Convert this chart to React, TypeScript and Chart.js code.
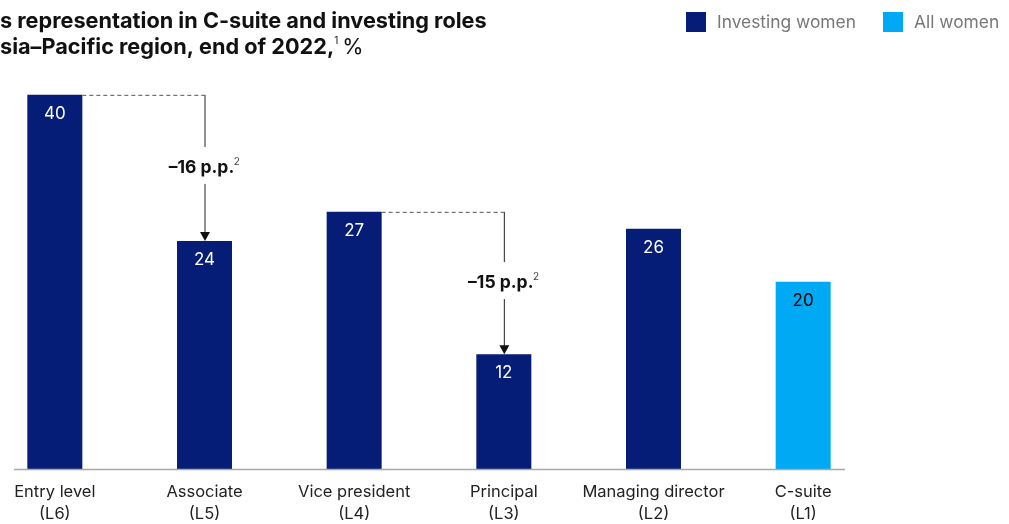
import React, { useEffect, useRef } from "react";
import { Chart, registerables } from "chart.js";

Chart.register(...registerables);

const categoryNames = ["Entry level", "Associate", "Vice president", "Principal", "Managing director", "C-suite"];
const categoryLevels = ["(L6)", "(L5)", "(L4)", "(L3)", "(L2)", "(L1)"];
const values = [39.7, 24.2, 27.3, 12.2, 25.5, 19.9];
const valueLabels = ["40", "24", "27", "12", "26", "20"];
const seriesNames = ["Investing women", "All women"];
const barSeries = [0, 0, 0, 0, 0, 1];
const gapFrom = [0, 2];
const gapTo = [1, 3];
const gapLabels = ["–16 p.p.", "–15 p.p."];
const titleLine1 = "s representation in C-suite and investing roles";
const titleLine2 = "sia–Pacific region, end of 2022,";

const NAVY = "#061d78";
const LIGHT = "#00a9f4";
const seriesColors = [NAVY, LIGHT];
const FONT = "Inter, 'Liberation Sans', Arial, sans-serif";
const OX = 40; // canvas x = page x + OX

function fitSize(ctx: CanvasRenderingContext2D, text: string, weight: string, target: number) {
  ctx.font = `${weight} 20px ${FONT}`;
  const w = ctx.measureText(text).width;
  return (20 * target) / w;
}

const overlay = {
  id: "overlay",
  afterDraw(chart: any) {
    const ctx = chart.ctx as CanvasRenderingContext2D;
    const ys = chart.scales.y;
    const meta = chart.getDatasetMeta(0);
    ctx.save();

    // axis line
    const y0 = ys.getPixelForValue(0);
    ctx.strokeStyle = "#a8a8a8";
    ctx.lineWidth = 1.5;
    ctx.beginPath();
    ctx.moveTo(OX + 14, y0);
    ctx.lineTo(OX + 845, y0);
    ctx.stroke();

    // value labels
    ctx.font = `17px ${FONT}`;
    ctx.textAlign = "center";
    ctx.textBaseline = "middle";
    meta.data.forEach((bar: any, i: number) => {
      ctx.fillStyle = barSeries[i] === 0 ? "#ffffff" : "#000000";
      ctx.fillText(valueLabels[i], bar.x, bar.y + 19);
    });

    // gap annotations
    gapFrom.forEach((f, k) => {
      const a = meta.data[f];
      const b = meta.data[gapTo[k]];
      const aRight = a.x + a.width / 2;
      ctx.strokeStyle = "#555";
      ctx.lineWidth = 1;
      ctx.setLineDash([4, 3]);
      ctx.beginPath();
      ctx.moveTo(aRight, a.y + 0.5);
      ctx.lineTo(b.x, a.y + 0.5);
      ctx.stroke();
      ctx.setLineDash([]);
      const mid = (a.y + b.y) / 2;
      ctx.strokeStyle = "#222";
      ctx.beginPath();
      ctx.moveTo(b.x + 0.5, a.y);
      ctx.lineTo(b.x + 0.5, mid - 21);
      ctx.moveTo(b.x + 0.5, mid + 16);
      ctx.lineTo(b.x + 0.5, b.y - 8);
      ctx.stroke();
      ctx.fillStyle = "#111";
      ctx.beginPath();
      ctx.moveTo(b.x + 0.5 - 5, b.y - 9);
      ctx.lineTo(b.x + 0.5 + 5, b.y - 9);
      ctx.lineTo(b.x + 0.5, b.y);
      ctx.closePath();
      ctx.fill();
      // label
      ctx.font = `bold 17.5px ${FONT}`;
      const w1 = ctx.measureText(gapLabels[k]).width;
      ctx.font = `10px ${FONT}`;
      const w2 = ctx.measureText("2").width;
      const start = b.x - (w1 + w2) / 2;
      ctx.textAlign = "left";
      ctx.font = `bold 17.5px ${FONT}`;
      ctx.fillStyle = "#111";
      ctx.fillText(gapLabels[k], start, mid);
      ctx.font = `10px ${FONT}`;
      ctx.fillStyle = "#444";
      ctx.fillText("2", start + w1 - 0.5, mid - 6);
      ctx.textAlign = "center";
    });

    // title
    ctx.textAlign = "left";
    ctx.textBaseline = "middle";
    ctx.fillStyle = "#111";
    const ts = fitSize(ctx, titleLine1, "bold", 487);
    ctx.font = `bold ${ts}px ${FONT}`;
    ctx.fillText(titleLine1, OX + 0, 21);
    ctx.fillText(titleLine2, OX + 0, 47);
    const tw = ctx.measureText(titleLine2).width;
    ctx.font = `10px ${FONT}`;
    ctx.fillText("1", OX + tw, 41);
    ctx.font = `${ts}px ${FONT}`;
    ctx.fillText("%", OX + tw + 8, 47);

    // legend
    const legendX = [686, 883];
    const ls = fitSize(ctx, seriesNames[0], "normal", 139);
    ctx.font = `${ls}px ${FONT}`;
    seriesNames.forEach((name, i) => {
      ctx.fillStyle = seriesColors[i];
      ctx.fillRect(OX + legendX[i], 12, 20, 20);
      ctx.fillStyle = "#777";
      ctx.fillText(name, OX + legendX[i] + 31, 23);
    });

    ctx.restore();
  },
};

export default function App() {
  const ref = useRef<HTMLCanvasElement | null>(null);
  useEffect(() => {
    document.body.style.margin = "0";
    const canvas = ref.current!;
    const chart = new Chart(canvas, {
      type: "bar",
      data: {
        labels: categoryNames.map((n, i) => [n, categoryLevels[i]]),
        datasets: [
          {
            data: values,
            backgroundColor: barSeries.map((s) => seriesColors[s]),
            barPercentage: 0.3675,
            categoryPercentage: 1,
            borderWidth: 0,
          },
        ],
      },
      options: {
        animation: false,
        responsive: false,
        devicePixelRatio: 1,
        layout: { padding: { left: 20, right: 131, top: 92, bottom: 0 } },
        plugins: { legend: { display: false }, tooltip: { enabled: false }, title: { display: false } },
        scales: {
          x: {
            grid: { display: false, drawTicks: false },
            border: { display: false },
            ticks: {
              color: "#222",
              font: { family: FONT, size: 16.5, lineHeight: 1.35 },
              padding: 11,
              maxRotation: 0,
              autoSkip: false,
            },
          },
          y: { display: false, min: 0, max: 40 },
        },
      },
      plugins: [overlay],
    });
    return () => chart.destroy();
  }, []);
  return (
    <div style={{ position: "absolute", left: 0, top: 0, width: 1009, height: 524, overflow: "hidden", background: "#fff" }}>
      <canvas ref={ref} width={1049} height={536} style={{ position: "absolute", left: -OX, top: 0, width: 1049, height: 536 }} />
    </div>
  );
}
